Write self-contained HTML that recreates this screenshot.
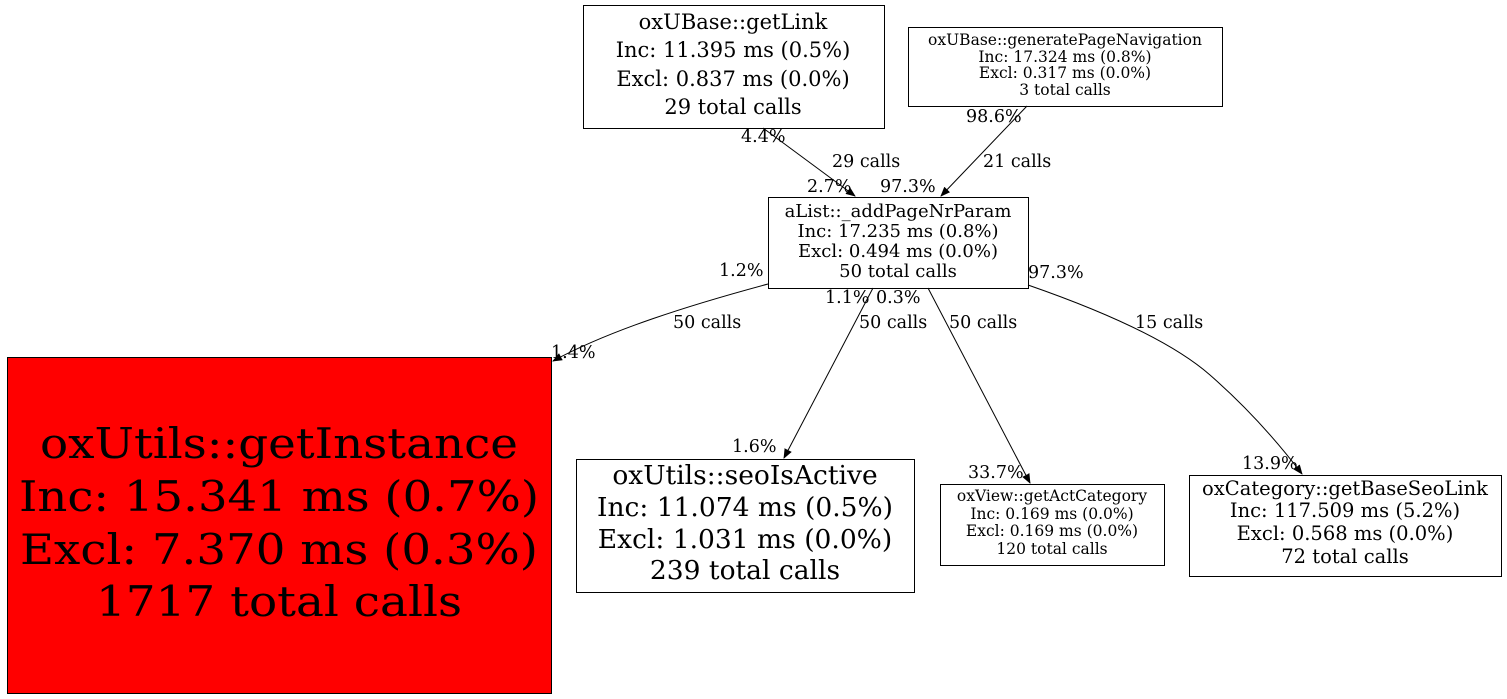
<!DOCTYPE html>
<html><head><meta charset="utf-8"><style>
html,body{margin:0;padding:0;background:#fff;}
svg{display:block;font-family:"DejaVu Serif","Liberation Serif",serif;}
</style></head><body>
<svg width="1507" height="699" viewBox="0 0 1507 699" xmlns="http://www.w3.org/2000/svg">
<defs><marker id="a" markerWidth="10" markerHeight="8" refX="9" refY="4" orient="auto" markerUnits="userSpaceOnUse"><path d="M0,0 L10,4 L0,8 z" fill="#000"/></marker></defs>
<g fill="none" stroke="#000" stroke-width="1">
<rect x="583.5" y="5.5" width="301" height="123" fill="#fff"/>
<rect x="908.5" y="27.5" width="314" height="79" fill="#fff"/>
<rect x="768.5" y="197.5" width="260" height="91" fill="#fff"/>
<rect x="7.5" y="357.5" width="544" height="336" fill="#ff0000"/>
<rect x="576.5" y="459.5" width="338" height="133" fill="#fff"/>
<rect x="940.5" y="484.5" width="224" height="81" fill="#fff"/>
<rect x="1189.5" y="475.5" width="312" height="101" fill="#fff"/>
<path d="M763,128 L855,196" marker-end="url(#a)"/>
<path d="M1027,106 L941,196" marker-end="url(#a)"/>
<path d="M768,284 C690,305 610,330 553,361" marker-end="url(#a)"/>
<path d="M873,288 L784,458" marker-end="url(#a)"/>
<path d="M928,288 L1030,483" marker-end="url(#a)"/>
<path d="M1028,285 C1100,310 1170,340 1210,375 C1250,410 1280,445 1302,474" marker-end="url(#a)"/>
</g>
<g text-anchor="middle" fill="#000">
<g font-size="21"><text x="733" y="29">oxUBase::getLink</text><text x="733" y="57">Inc: 11.395 ms (0.5%)</text><text x="733" y="86">Excl: 0.837 ms (0.0%)</text><text x="733" y="114">29 total calls</text></g>
<g font-size="15.5"><text x="1065" y="45">oxUBase::generatePageNavigation</text><text x="1065" y="62">Inc: 17.324 ms (0.8%)</text><text x="1065" y="78">Excl: 0.317 ms (0.0%)</text><text x="1065" y="95">3 total calls</text></g>
<g font-size="18"><text x="898" y="217">aList::_addPageNrParam</text><text x="898" y="237">Inc: 17.235 ms (0.8%)</text><text x="898" y="257">Excl: 0.494 ms (0.0%)</text><text x="898" y="277">50 total calls</text></g>
<g font-size="42"><text x="279" y="458" textLength="478" lengthAdjust="spacingAndGlyphs">oxUtils::getInstance</text><text x="279" y="511" textLength="520" lengthAdjust="spacingAndGlyphs">Inc: 15.341 ms (0.7%)</text><text x="279" y="564" textLength="518" lengthAdjust="spacingAndGlyphs">Excl: 7.370 ms (0.3%)</text><text x="279" y="616" textLength="366" lengthAdjust="spacingAndGlyphs">1717 total calls</text></g>
<g font-size="26.5"><text x="745" y="484">oxUtils::seoIsActive</text><text x="745" y="516">Inc: 11.074 ms (0.5%)</text><text x="745" y="548">Excl: 1.031 ms (0.0%)</text><text x="745" y="579">239 total calls</text></g>
<g font-size="15.5"><text x="1052" y="501">oxView::getActCategory</text><text x="1052" y="519">Inc: 0.169 ms (0.0%)</text><text x="1052" y="536">Excl: 0.169 ms (0.0%)</text><text x="1052" y="554">120 total calls</text></g>
<g font-size="19.5"><text x="1345" y="495">oxCategory::getBaseSeoLink</text><text x="1345" y="517">Inc: 117.509 ms (5.2%)</text><text x="1345" y="540">Excl: 0.568 ms (0.0%)</text><text x="1345" y="563">72 total calls</text></g>
</g>
<g font-size="17.5" fill="#000">
<text x="741" y="142">4.4%</text><text x="832" y="167">29 calls</text><text x="807" y="192">2.7%</text>
<text x="966" y="122">98.6%</text><text x="983" y="167">21 calls</text><text x="880" y="192">97.3%</text>
<text x="719" y="276">1.2%</text><text x="673" y="328">50 calls</text><text x="551" y="358">1.4%</text>
<text x="825" y="303">1.1%</text><text x="876" y="303">0.3%</text><text x="859" y="328">50 calls</text><text x="732" y="452">1.6%</text>
<text x="949" y="328">50 calls</text><text x="968" y="478">33.7%</text>
<text x="1028" y="278">97.3%</text><text x="1135" y="328">15 calls</text><text x="1242" y="469">13.9%</text>
</g>
</svg>
</body></html>
